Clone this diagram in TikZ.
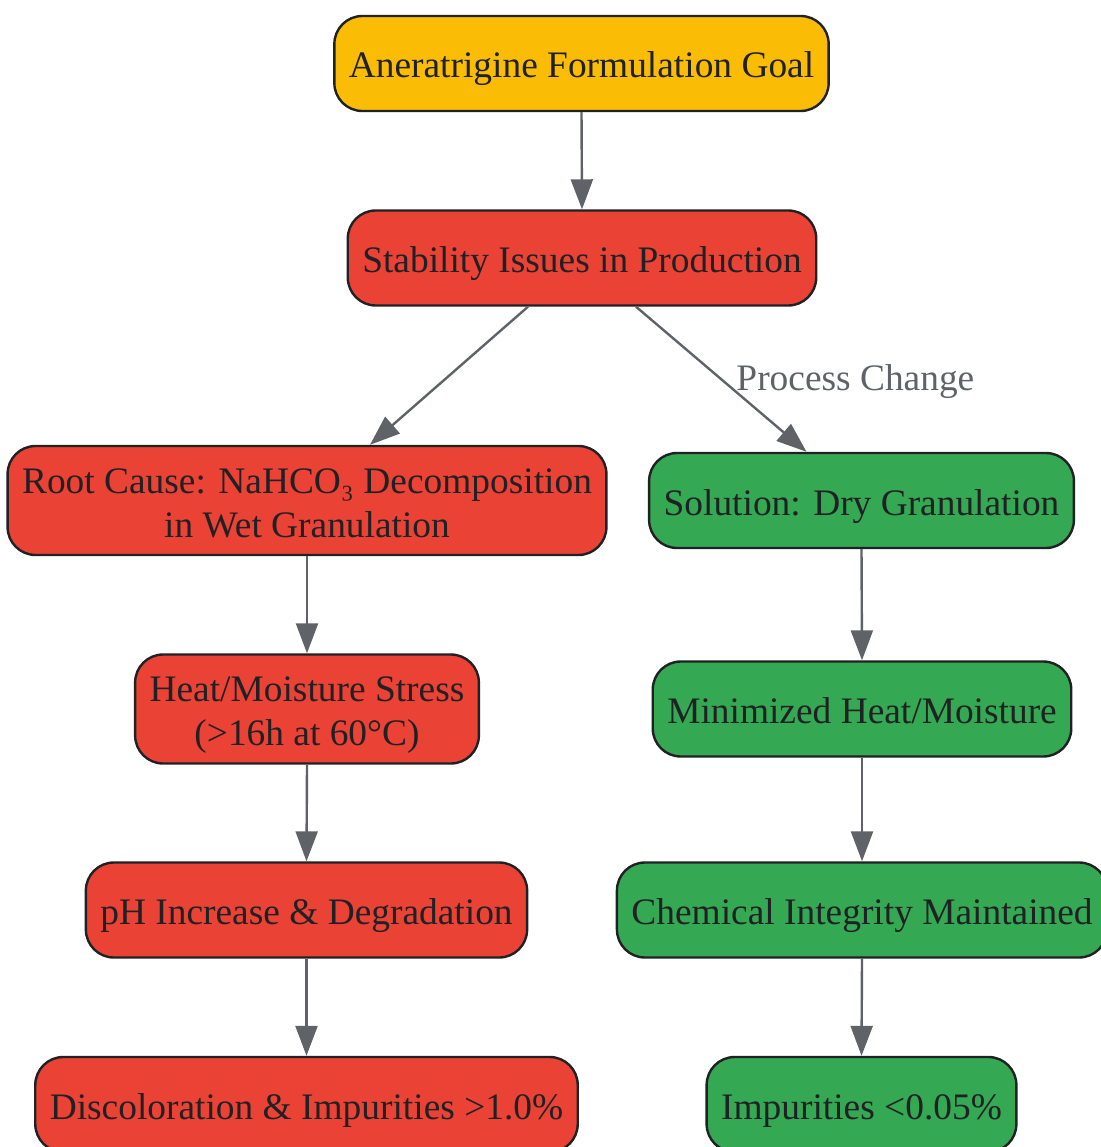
\documentclass[tikz,border=0pt]{standalone}
\usepackage{fontspec}
\setmainfont{Liberation Serif}
\usepackage{tikz}
\usetikzlibrary{shapes,arrows.meta}
\definecolor{goalyellow}{HTML}{FBBC05}
\definecolor{issuered}{HTML}{EA4335}
\definecolor{fixgreen}{HTML}{34A853}
\definecolor{inkdark}{HTML}{202124}
\definecolor{edgegray}{HTML}{5F6368}
\tikzstyle{box} = [draw=inkdark, line width=2.4pt, text=inkdark, rounded corners=28pt, align=center, inner xsep=14.5pt, inner ysep=4pt, minimum height=95pt, font=\fontsize{37.4pt}{44pt}\selectfont, text height=36pt, text depth=7pt]
\tikzstyle{twoline} = [minimum height=109pt, text height=80pt]
\tikzstyle{link} = [draw=edgegray, line width=2.4pt, -{Triangle[length=30pt,width=22pt]}]
\tikzstyle{linklabel} = [text=edgegray, inner sep=0pt, font=\fontsize{37.4pt}{44pt}\selectfont]

\begin{document}
\begin{tikzpicture}[x=1pt,y=-1pt]
	\useasboundingbox (0,0) rectangle (1100,1147);
	\node[box, fill=goalyellow] (goal) at (581.5,63.5) {Aneratrigine Formulation Goal};
	\node[box, fill=issuered] (stab) at (582,258) {Stability Issues in Production};
	\node[box, twoline, fill=issuered] (root) at (307,500.5) {Root Cause: NaHCO₃ Decomposition\\in Wet Granulation};
	\node[box, fill=fixgreen] (sol) at (861.5,500.5) {Solution: Dry Granulation};
	\node[box, twoline, fill=issuered] (heat) at (307,709) {Heat/Moisture Stress\\(>16h at 60°C)};
	\node[box, fill=fixgreen] (mini) at (862,709) {Minimized Heat/Moisture};
	\node[box, fill=issuered] (ph) at (306.5,910) {pH Increase \& Degradation};
	\node[box, fill=fixgreen] (chem) at (862,910) {Chemical Integrity Maintained};
	\node[box, fill=issuered] (disc) at (306.5,1104.5) {Discoloration \& Impurities >1.0\%};
	\node[box, fill=fixgreen] (imp) at (861.5,1104.5) {Impurities <0.05\%};
	\draw[link] (goal.south) -- (stab.north);
	\draw[link] ([xshift=-54pt]stab.south) -- ([xshift=63pt]root.north);
	\draw[link] ([xshift=54pt]stab.south) -- node[linklabel, anchor=west, xshift=14pt, yshift=-2pt] {Process Change} ([xshift=-55pt]sol.north);
	\draw[link] (root.south) -- (heat.north);
	\draw[link] (heat.south) -- (ph.north);
	\draw[link] (ph.south) -- (disc.north);
	\draw[link] (sol.south) -- (mini.north);
	\draw[link] (mini.south) -- (chem.north);
	\draw[link] (chem.south) -- (imp.north);
\end{tikzpicture}
\end{document}
